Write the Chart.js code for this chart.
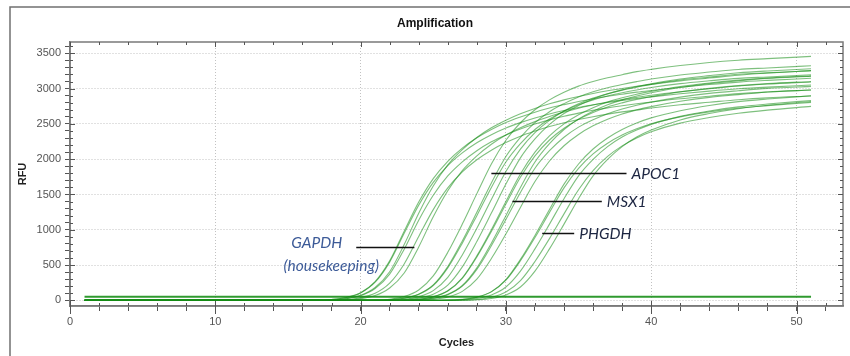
<!DOCTYPE html>
<html>
<head>
<meta charset="utf-8">
<script src="https://cdn.jsdelivr.net/npm/chart.js@4.4.1/dist/chart.umd.min.js"></script>
<style>
  html, body { margin: 0; padding: 0; background: #fff; }
  canvas { display: block; }
</style>
</head>
<body>
<canvas id="ampChart" width="850" height="356"></canvas>
<script>
const cycles = [1, 16, 17, 18, 19, 20, 21, 22, 23, 24, 25, 26, 27, 28, 29, 30,
  31, 32, 33, 34, 35, 36, 37, 38, 39, 40, 42, 44, 46, 48, 51];

// GAPDH (housekeeping) wells
const gapdh = [
  [0,0,0,12,41,108,265,559,980,1392,1725,1970,2156,2303,2421,2519,2597,2666,2724,2773,2818,2857,2891,2920,2950,2974,3018,3058,3092,3116,3146],
  [0,0,0,11,40,105,257,542,950,1349,1672,1910,2090,2233,2347,2442,2518,2584,2641,2689,2731,2770,2803,2831,2860,2883,2926,2964,2997,3021,3050],
  [0,0,2,5,25,71,182,405,790,1235,1620,1919,2136,2308,2445,2552,2643,2719,2784,2840,2888,2931,2969,3002,3032,3060,3109,3149,3189,3220,3254],
  [0,0,2,5,23,65,167,372,725,1135,1488,1762,1962,2120,2246,2344,2427,2497,2557,2608,2652,2692,2727,2757,2785,2810,2855,2892,2928,2952,2980],
  [0,0,0,0,11,38,100,244,516,905,1285,1593,1819,1991,2127,2235,2326,2398,2462,2516,2562,2602,2638,2670,2697,2724,2770,2806,2842,2869,2896],
  [0,0,0,0,5,24,68,175,388,757,1183,1552,1838,2047,2212,2343,2445,2532,2604,2667,2721,2767,2809,2844,2876,2906,2955,2997,3036,3064,3094]
];

const apoc1 = [
  [0,0,0,0,0,0,5,16,54,146,346,680,1080,1512,1933,2268,2516,2700,2840,2948,3035,3100,3154,3197,3240,3272,3326,3370,3402,3424,3456],
  [0,0,0,0,0,0,0,9,31,88,218,478,842,1248,1664,2038,2309,2517,2673,2787,2881,2954,3011,3058,3099,3136,3193,3234,3271,3292,3323],
  [0,0,0,0,0,0,0,9,30,85,210,460,810,1200,1600,1960,2220,2420,2570,2680,2770,2840,2895,2940,2980,3015,3070,3110,3145,3165,3195],
  [0,0,0,0,0,0,0,5,15,51,138,326,643,1020,1428,1826,2142,2377,2550,2683,2785,2866,2927,2978,3019,3060,3121,3162,3203,3223,3254]
];

const msx1 = [
  [0,0,0,0,0,0,0,0,9,31,88,216,474,834,1236,1648,2019,2287,2493,2647,2760,2853,2925,2982,3028,3069,3136,3183,3224,3250,3280],
  [0,0,0,0,0,0,0,0,5,15,50,135,320,630,1000,1400,1790,2100,2330,2500,2630,2730,2810,2870,2920,2960,3030,3080,3120,3150,3180],
  [0,0,0,0,0,0,0,0,5,15,49,132,312,614,975,1365,1745,2048,2272,2438,2564,2662,2740,2798,2847,2886,2954,3003,3042,3071,3101],
  [0,0,0,0,0,0,0,0,0,9,30,85,210,460,810,1200,1600,1960,2220,2420,2570,2680,2770,2840,2895,2940,3015,3070,3110,3145,3175],
  [0,0,0,0,0,0,0,0,0,9,29,81,201,439,774,1146,1528,1872,2120,2311,2454,2559,2645,2712,2765,2808,2879,2932,2970,3003,3032],
  [0,0,0,0,0,0,0,0,0,5,14,47,127,301,592,940,1316,1683,1974,2190,2350,2472,2566,2641,2698,2745,2820,2876,2914,2952,2980]
];

const phgdh = [
  [0,0,0,0,0,0,0,0,0,0,0,5,14,46,124,294,580,920,1288,1647,1932,2144,2300,2420,2512,2585,2686,2760,2815,2852,2898],
  [0,0,0,0,0,0,0,0,0,0,0,4,13,45,120,285,561,890,1246,1593,1869,2074,2225,2341,2430,2501,2599,2670,2723,2759,2804],
  [0,0,0,0,0,0,0,0,0,0,0,0,8,27,77,189,414,729,1080,1440,1764,1998,2178,2313,2412,2493,2606,2682,2741,2781,2831],
  [0,0,0,0,0,0,0,0,0,0,0,0,4,13,44,118,280,551,875,1225,1566,1838,2039,2188,2301,2389,2511,2590,2651,2695,2748],
  [0,0,0,0,0,0,0,0,0,0,0,0,0,8,27,77,189,414,729,1080,1440,1764,1998,2178,2313,2412,2556,2646,2714,2763,2817]
];

// no-template control, flat
const ntc = [50,50,50,50,50,50,50,50,50,50,50,50,50,50,50,50,50,50,50,50,50,50,50,50,50,50,50,50,50,50,50];

// labels pointing at the curve groups (y in RFU, line from/to in cycles)
const noteNames = ['APOC1', 'MSX1', 'PHGDH', 'GAPDH'];
const noteRfu = [1806, 1405, 950, 757];
const noteFrom = [29.0, 30.45, 32.5, 19.7];
const noteTo = [38.3, 36.6, 34.7, 23.7];

const datasets = [];
[gapdh, apoc1, msx1, phgdh].forEach(group => {
  group.forEach(vals => {
    datasets.push({
      data: cycles.map((c, i) => ({ x: c, y: vals[i] })),
      borderColor: 'rgba(20, 140, 20, 0.55)',
      borderWidth: 1.1,
      pointRadius: 0,
      cubicInterpolationMode: 'monotone',
      fill: false
    });
  });
});
datasets.push({
  data: cycles.map((c, i) => ({ x: c, y: ntc[i] })),
  borderColor: '#2f9a2f',
  borderWidth: 2,
  pointRadius: 0,
  fill: false
});

const tickFont = { family: '"Liberation Sans", Arial, sans-serif', size: 11 };
const titleFont = { family: '"Liberation Sans", Arial, sans-serif', size: 11, weight: 'bold' };

/* frame, mirrored ticks, title and gene labels */
const decor = {
  id: 'decor',
  afterDraw(chart) {
    const { ctx, chartArea: a, scales: { x, y } } = chart;
    ctx.save();

    // outer panel frame
    ctx.strokeStyle = '#707070';
    ctx.lineWidth = 1.5;
    ctx.beginPath();
    ctx.moveTo(10, 356);
    ctx.lineTo(10, 7);
    ctx.lineTo(850, 7);
    ctx.stroke();

    // plot box
    ctx.strokeStyle = '#7a7a7a';
    ctx.lineWidth = 1.5;
    ctx.strokeRect(a.left, a.top, a.right - a.left, a.bottom - a.top);

    // ticks inside the box, and on top / right
    ctx.strokeStyle = '#555';
    ctx.lineWidth = 1;
    ctx.beginPath();
    x.ticks.forEach(t => {
      const px = Math.round(x.getPixelForValue(t.value)) + 0.5;
      const len = t.value % 10 === 0 ? 5 : 3;
      ctx.moveTo(px, a.bottom); ctx.lineTo(px, a.bottom - len);
      ctx.moveTo(px, a.top); ctx.lineTo(px, a.top + len);
      if (t.value % 10 === 0) { ctx.moveTo(px, a.bottom); ctx.lineTo(px, a.bottom + 8); }
    });
    y.ticks.forEach(t => {
      const py = Math.round(y.getPixelForValue(t.value)) + 0.5;
      const len = t.value % 500 === 0 ? 5 : 3;
      ctx.moveTo(a.left, py); ctx.lineTo(a.left + len, py);
      ctx.moveTo(a.right, py); ctx.lineTo(a.right - len, py);
    });
    ctx.stroke();

    // chart title
    ctx.fillStyle = '#111';
    ctx.font = 'bold 12px "Liberation Sans", Arial, sans-serif';
    ctx.textAlign = 'center';
    ctx.textBaseline = 'middle';
    ctx.fillText('Amplification', 435, 24);

    // gene labels
    ctx.font = 'italic 15.5px Lato, "Open Sans", sans-serif';
    noteNames.forEach((name, i) => {
      const py = Math.round(y.getPixelForValue(noteRfu[i])) + 0.5;
      const x0 = x.getPixelForValue(noteFrom[i]);
      const x1 = x.getPixelForValue(noteTo[i]);
      ctx.strokeStyle = '#111';
      ctx.lineWidth = 1.3;
      ctx.beginPath();
      ctx.moveTo(x0, py);
      ctx.lineTo(x1, py);
      ctx.stroke();
      if (name === 'GAPDH') {
        ctx.fillStyle = '#3d5b98';
        ctx.textAlign = 'right';
        ctx.fillText(name, x0 - 14, py - 5);
        ctx.textAlign = 'center';
        ctx.fillText('(housekeeping)', x0 - 25, py + 18);
      } else {
        ctx.fillStyle = '#1c2541';
        ctx.textAlign = 'left';
        ctx.fillText(name, x1 + 5, py);
      }
    });
    ctx.restore();
  }
};

new Chart(document.getElementById('ampChart'), {
  type: 'line',
  data: { datasets },
  options: {
    responsive: false,
    animation: false,
    devicePixelRatio: 1,
    layout: { padding: { top: 42, left: 10, right: 7, bottom: 0 } },
    plugins: {
      legend: { display: false },
      tooltip: { enabled: false },
      title: { display: false }
    },
    scales: {
      x: {
        type: 'linear',
        min: 0,
        max: 53.2,
        afterFit(scale) { scale.height = 50; },
        ticks: {
          stepSize: 2,
          includeBounds: false,
          autoSkip: false,
          maxRotation: 0,
          padding: 4,
          color: '#555',
          font: tickFont,
          callback: v => (v % 10 === 0 ? v : '')
        },
        grid: {
          color: c => (c.tick && c.tick.value % 10 === 0 ? '#c2c2c2' : 'rgba(0,0,0,0)'),
          tickColor: '#555',
          tickLength: 5,
          lineWidth: 1
        },
        border: { color: '#777', width: 1.5, dash: [1, 2] },
        title: { display: true, text: 'Cycles', color: '#222', font: titleFont, padding: { top: 4, bottom: 6 } }
      },
      y: {
        min: -80,
        max: 3660,
        afterFit(scale) { scale.width = 60; },
        ticks: {
          stepSize: 100,
          includeBounds: false,
          autoSkip: false,
          padding: 4,
          color: '#555',
          font: tickFont,
          callback: v => (v % 500 === 0 ? v : '')
        },
        grid: {
          color: c => (c.tick && c.tick.value % 500 === 0 ? '#c2c2c2' : 'rgba(0,0,0,0)'),
          tickColor: '#555',
          tickLength: 5,
          lineWidth: 1
        },
        border: { color: '#777', width: 1.5, dash: [1, 2] },
        title: { display: true, text: 'RFU', color: '#222', font: titleFont, padding: { top: 6, bottom: 4 } }
      }
    }
  },
  plugins: [decor]
});
</script>
</body>
</html>
